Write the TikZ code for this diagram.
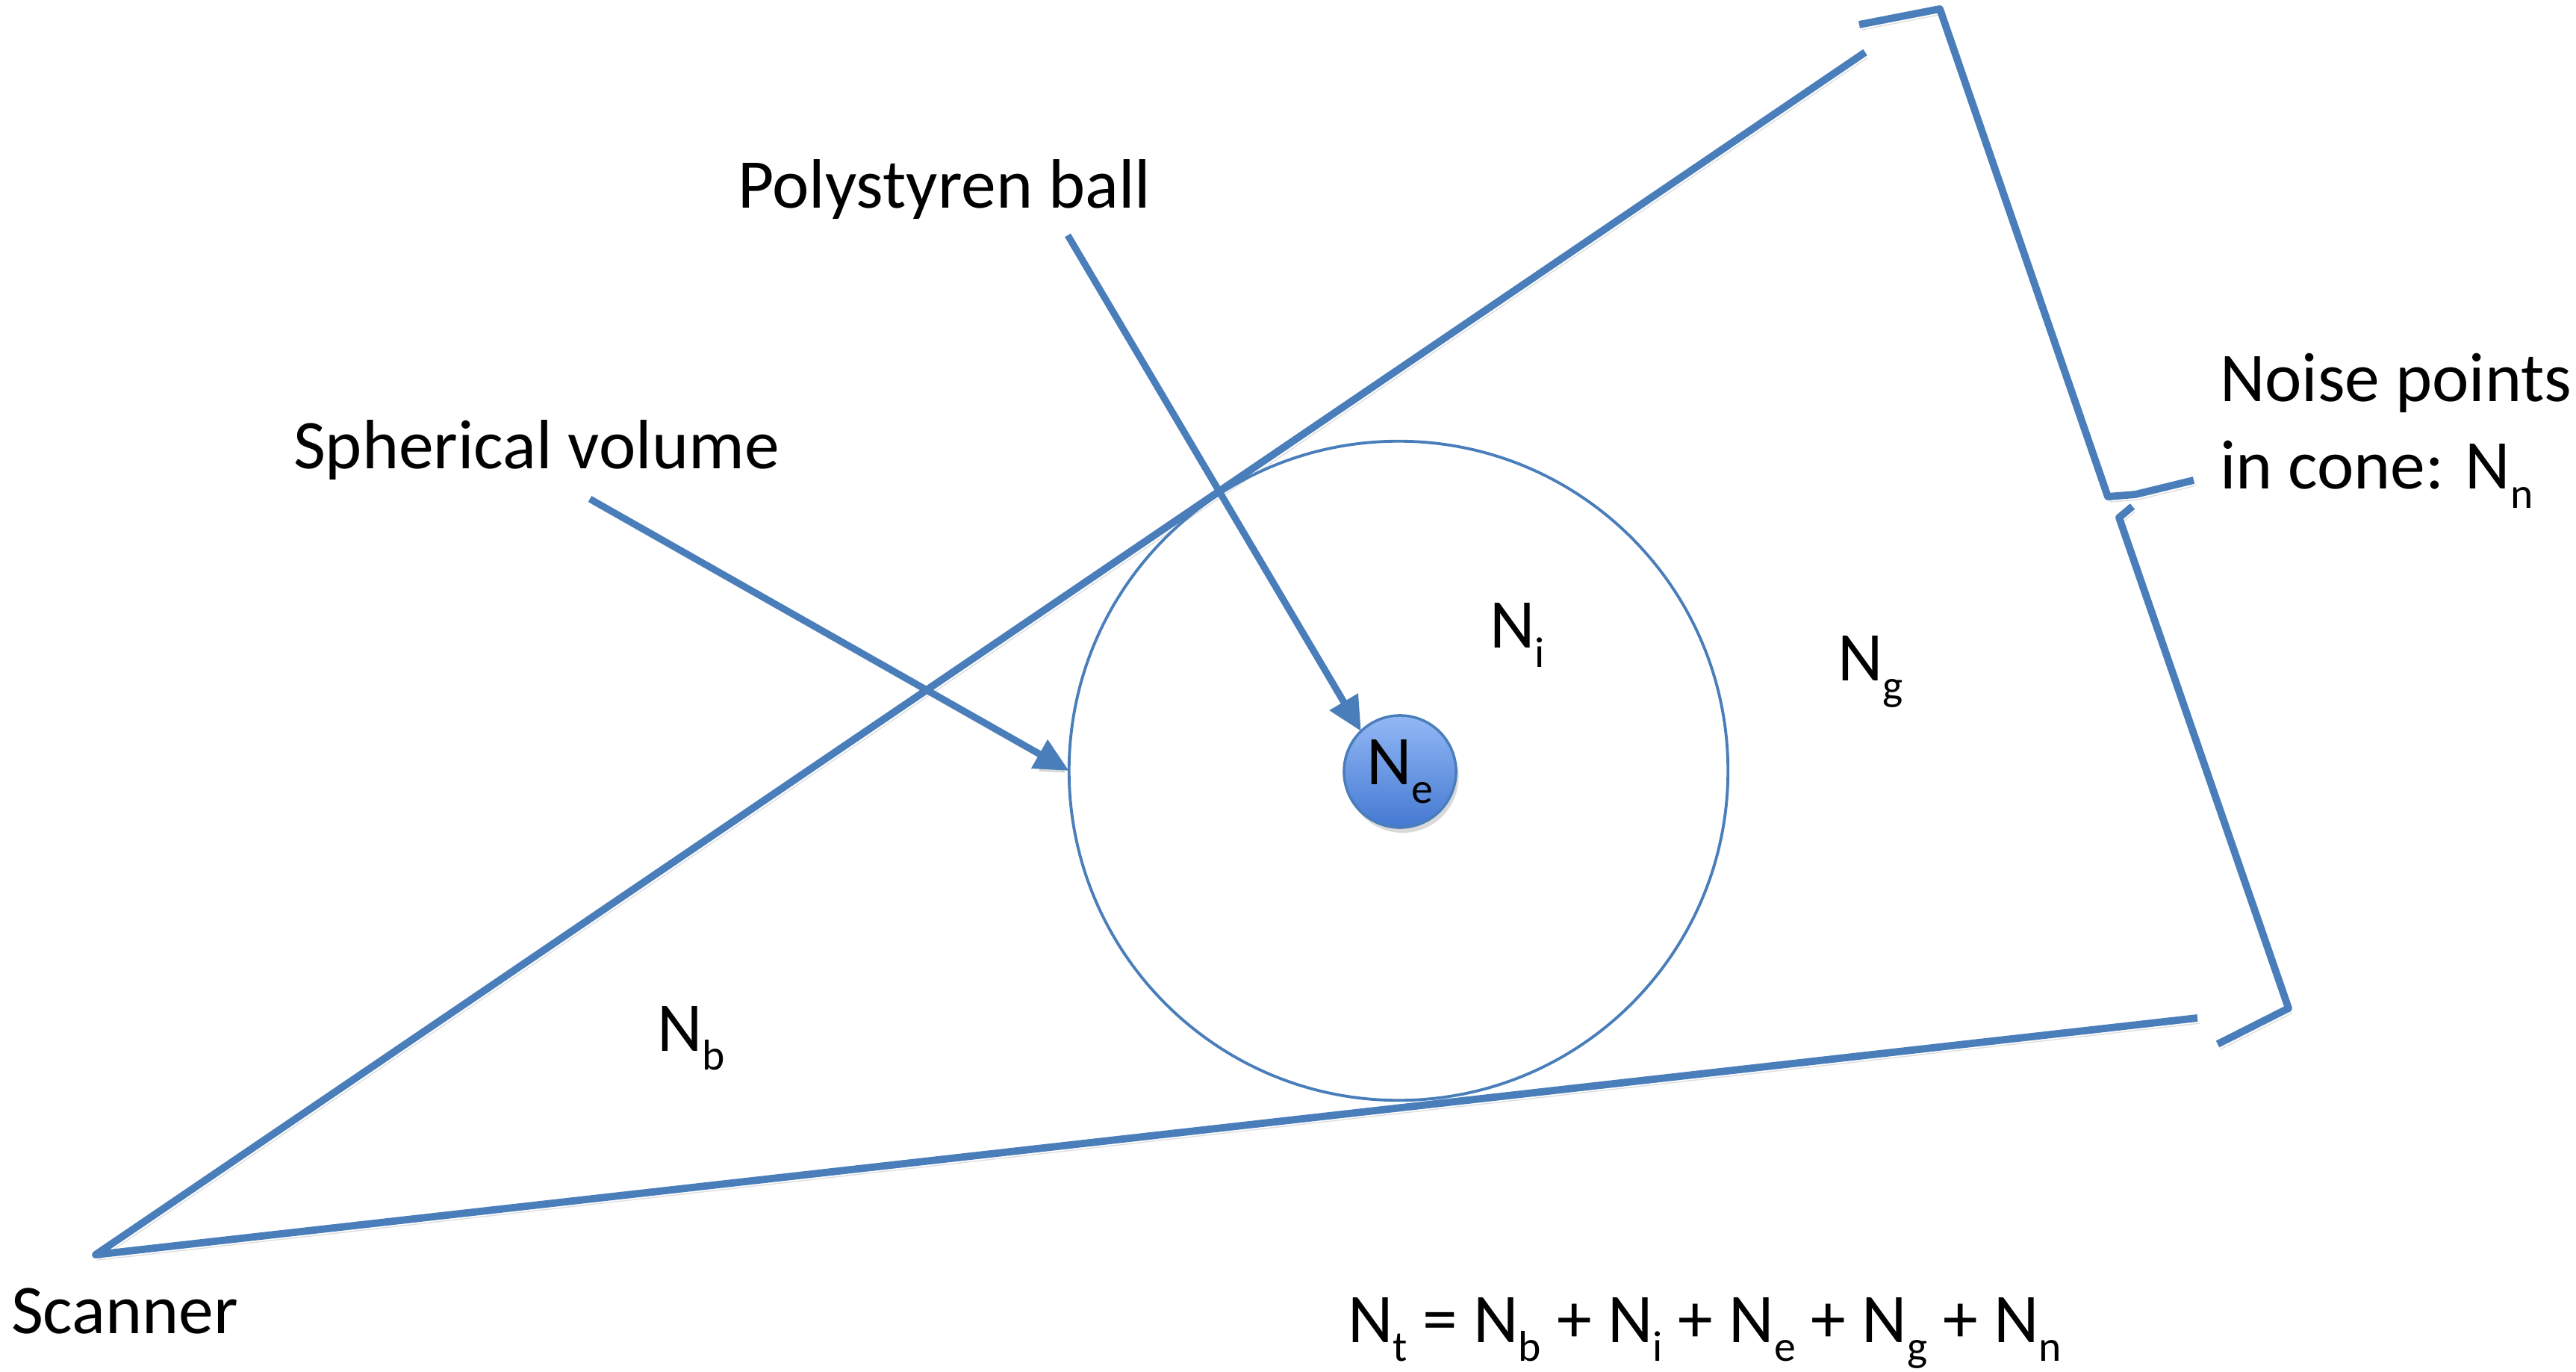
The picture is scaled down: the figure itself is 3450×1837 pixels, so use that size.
\documentclass[tikz,border=0pt]{standalone}
\usepackage{fontspec}
\setmainfont{Carlito}
\usetikzlibrary{arrows.meta,shadows}
\definecolor{ob}{HTML}{4A7EBB}
\definecolor{balltop}{HTML}{93B8F5}
\definecolor{ballbot}{HTML}{4479D2}
\newcommand\sbs[1]{\raisebox{-0.27em}{\fontsize{16.4}{16.4}\selectfont #1}}
\begin{document}
\begin{tikzpicture}[x=0.01cm,y=-0.01cm,
  lbl/.style={inner sep=0pt, outer sep=0pt, anchor=base west, font=\fontsize{26.6}{32}\selectfont},
  shad/.style={preaction={draw=black, opacity=0.13, transform canvas={xshift=1pt,yshift=-2pt}}},
  blueline/.style={draw=ob, line width=2.8pt, line join=round, shad},
  arr/.style={draw=ob, line width=2.6pt, -{Triangle[length=13pt,width=12pt]}, shad},
]
\useasboundingbox (0,0) rectangle (3450,1837);

% cone
\coordinate (apex) at (128,1680);
\coordinate (upEnd) at (2498,70);
\coordinate (loEnd) at (2943,1363);
\draw[blueline] (upEnd) -- (apex) -- (loEnd);

% spherical volume and ball
\node[circle, draw=ob, line width=1.1pt, minimum size=8.82cm, inner sep=0pt, outer sep=0pt] (sphere) at (1873,1032) {};
\node[circle, minimum size=1.5cm, inner sep=0pt, outer sep=0pt, draw=ob, line width=1pt,
      top color=balltop, bottom color=ballbot,
      drop shadow={opacity=0.3, shadow xshift=1pt, shadow yshift=-2pt},
      font=\fontsize{26.6}{32}\selectfont] (ball) at (1875,1033) {N\sbs{e}};

% labels
\node[lbl] (poly) at (988,279) {Polystyren ball};
\node[lbl] (sph) at (393,628) {Spherical volume};
\node[lbl] (noise1) at (2973,538) {Noise points};
\node[lbl] (noise2) at (2973,655) {in cone: N\sbs{n}};
\node[lbl] (ni) at (1995,868) {N\sbs{i}};
\node[lbl] (ng) at (2461,912) {N\sbs{g}};
\node[lbl] (nb) at (880,1407) {N\sbs{b}};
\node[lbl] (scan) at (15,1785) {Scanner};
\node[lbl] (eq) at (1805,1797) {N\sbs{t} = N\sbs{b} + N\sbs{i} + N\sbs{e} + N\sbs{g} + N\sbs{n}};

% arrows
\coordinate (polyStart) at (1430,315);
\coordinate (sphStart) at (790,668);
\draw[arr] (polyStart) -- (ball.134);
\draw[arr] (sphStart) -- (sphere.west);

% brace
\draw[blueline] (2490,33) -- (2598,12) -- (2823,665) -- (2860,662) -- (2938,643);
\draw[blueline] (2856,678) -- (2838,693) -- (3065,1350) -- (2970,1398);
\end{tikzpicture}
\end{document}
